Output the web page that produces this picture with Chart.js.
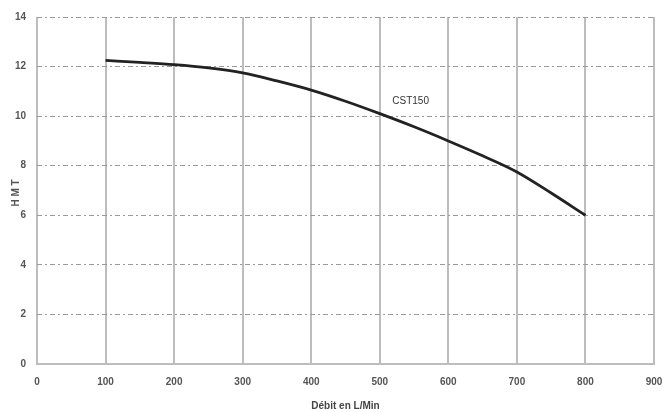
<!DOCTYPE html>
<html>
<head>
<meta charset="utf-8">
<script src="https://cdn.jsdelivr.net/npm/chart.js@4"></script>
<style>
  html, body { margin: 0; padding: 0; background: #fff; }
  #wrap { width: 664px; height: 412px; }
</style>
</head>
<body>
<div id="wrap"><canvas id="pump-chart" width="664" height="412"></canvas></div>
<script>
// Débit (L/Min) et HMT
const debit = [100, 150, 200, 250, 300, 350, 400, 450, 500, 550, 600, 650, 700, 750, 800];
const hmt = [12.25, 12.17, 12.08, 11.95, 11.75, 11.42, 11.05, 10.6, 10.1, 9.57, 9.0, 8.4, 7.75, 6.9, 6.0];
const xTicks = [0, 100, 200, 300, 400, 500, 600, 700, 800, 900];
const yTicks = [0, 2, 4, 6, 8, 10, 12, 14];
const serieName = 'CST150';
const labelAt = { x: 545, y: 10.62 };

const points = debit.map((d, i) => ({ x: d, y: hmt[i] }));

// Textes libres : nom de la courbe et titre vertical
const extraText = {
    id: 'extraText',
    afterDatasetsDraw(chart) {
        const ctx = chart.ctx;
        const xs = chart.scales.x, ys = chart.scales.y;
        ctx.save();
        ctx.fillStyle = '#333';
        ctx.font = '10px "Liberation Sans"';
        ctx.textAlign = 'center';
        ctx.textBaseline = 'middle';
        ctx.fillText(serieName, xs.getPixelForValue(labelAt.x), ys.getPixelForValue(labelAt.y));

        ctx.fillStyle = '#555';
        ctx.font = 'bold 10px "Liberation Sans"';
        ctx.translate(16, ys.getPixelForValue(6.9));
        ctx.rotate(-Math.PI / 2);
        ctx.fillText('H M T', 0, 0);
        ctx.restore();
    }
};

new Chart(document.getElementById('pump-chart'), {
    type: 'line',
    data: {
        datasets: [{
            label: serieName,
            data: points,
            borderColor: '#222',
            borderWidth: 2.8,
            cubicInterpolationMode: 'monotone',
            pointRadius: 0,
            fill: false
        }]
    },
    options: {
        responsive: false,
        animation: false,
        layout: { padding: { top: 16, right: 0, left: 0, bottom: 0 } },
        plugins: { legend: { display: false }, tooltip: { enabled: false } },
        scales: {
            x: {
                type: 'linear',
                min: 0,
                max: 900,
                afterBuildTicks: s => { s.ticks = xTicks.map(v => ({ value: v })); },
                afterFit: s => { s.height = 48; s.paddingRight = 10; s.paddingLeft = 0; },
                ticks: {
                    color: '#555',
                    padding: 12,
                    font: { family: 'Liberation Sans', size: 10, weight: 'bold' }
                },
                grid: { color: '#bdbdbd', lineWidth: 2, drawTicks: false },
                border: { color: '#bdbdbd', width: 2 },
                title: {
                    display: true,
                    text: 'Débit en L/Min',
                    color: '#444',
                    padding: { top: 4, bottom: 0 },
                    font: { family: 'Liberation Sans', size: 10, weight: 'bold' }
                }
            },
            y: {
                min: 0,
                max: 14,
                afterBuildTicks: s => { s.ticks = yTicks.map(v => ({ value: v })); },
                afterFit: s => { s.width = 37; },
                ticks: {
                    color: '#555',
                    padding: 11,
                    font: { family: 'Liberation Sans', size: 10, weight: 'bold' }
                },
                grid: { color: '#9a9a9a', lineWidth: 1, drawTicks: false },
                border: { display: false, dash: [5, 3, 2, 3] }
            }
        }
    },
    plugins: [extraText]
});
</script>
</body>
</html>
